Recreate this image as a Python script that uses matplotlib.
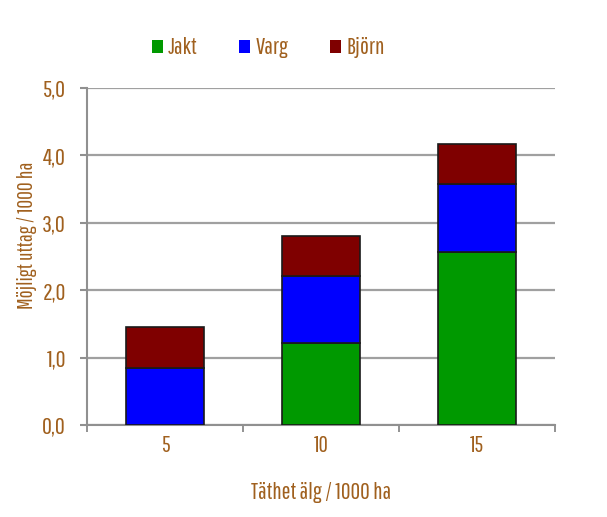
import matplotlib
matplotlib.use("Agg")
import matplotlib.pyplot as plt
from matplotlib import font_manager
import numpy as np

categories = ["5", "10", "15"]
jakt = [0.0, 1.21, 2.56]
varg = [0.84, 1.00, 1.02]
bjorn = [0.61, 0.59, 0.59]
series_names = ["Jakt", "Varg", "Björn"]
colors = ["#009900", "#0000FF", "#7F0000"]
yticks = [0, 1, 2, 3, 4, 5]
ytick_labels = ["0,0", "1,0", "2,0", "3,0", "4,0", "5,0"]

names = {f.name for f in font_manager.fontManager.ttflist}
fam = "DejaVu Sans"
for cand in ["Pathway Gothic One", "Roboto Condensed", "Archivo Narrow", "PT Sans Narrow",
             "Barlow Condensed", "Liberation Sans Narrow"]:
    if cand in names:
        fam = cand
        break
plt.rcParams['font.family'] = [fam, 'DejaVu Sans']

txt = "#A0601E"
fig = plt.figure(figsize=(6.07, 5.17), dpi=100)
ax = fig.add_axes([87/607, 92/517, 468/607, 337/517])

x = np.arange(len(categories))
w = 0.5
bottoms = np.zeros(3)
for vals, name, c in zip([jakt, varg, bjorn], series_names, colors):
    ax.bar(x, vals, w, bottom=bottoms, color=c, edgecolor="#1a1a1a", linewidth=1.2, label=name, zorder=3)
    bottoms = bottoms + np.array(vals)

ax.set_xlim(-0.5, 2.5)
ax.set_ylim(0, 5)
ax.set_yticks(yticks)
ax.set_yticklabels(ytick_labels, color=txt, fontsize=17.5)
ax.set_xticks(x)
ax.set_xticklabels(categories, color=txt, fontsize=16.5)
ax.tick_params(axis='x', length=0, pad=7)
ax.set_xticks([-0.5, 0.5, 1.5, 2.5], minor=True)
ax.tick_params(axis='x', which='minor', length=5, color="#808080", width=1.2, direction='out')
ax.tick_params(axis='y', length=5, color="#909090", width=1.5, pad=10)
ax.yaxis.grid(True, color="#a0a0a0", linewidth=1.6, zorder=0)
for s in ['top', 'right']:
    ax.spines[s].set_visible(False)
for s in ['left', 'bottom']:
    ax.spines[s].set_color("#909090")
    ax.spines[s].set_linewidth(1.5)

ax.set_ylabel("Möjligt uttag / 1000 ha", color=txt, fontsize=15.5)
ax.yaxis.set_label_coords((37 - 87) / 468, (425 - 235) / 337)
ax.set_xlabel("Täthet älg / 1000 ha", color=txt, fontsize=17, labelpad=19)

leg = fig.legend(loc='center', bbox_to_anchor=(268/607, 1 - 48/517), ncol=3, frameon=False,
                 fontsize=17, handlelength=0.47, handleheight=0.47, handletextpad=0.22, columnspacing=1.76)
for t in leg.get_texts():
    t.set_color(txt)
for h in leg.legend_handles:
    h.set_edgecolor('none')

fig.savefig("out.png", dpi=100)
